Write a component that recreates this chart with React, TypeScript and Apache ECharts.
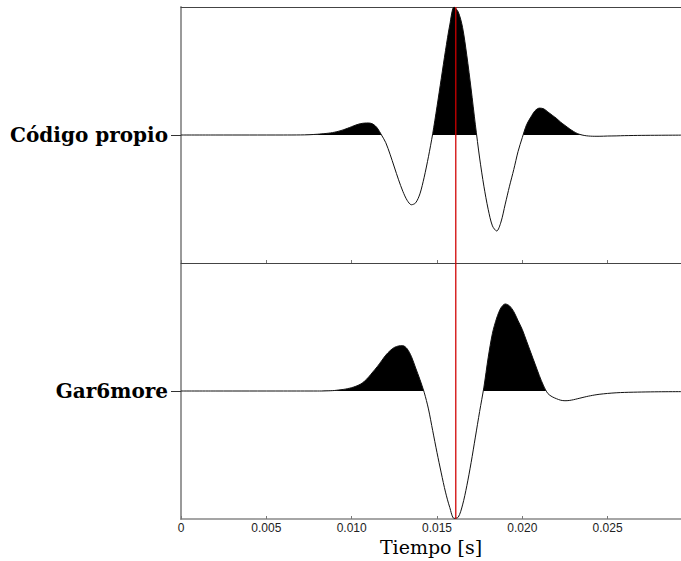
import React, { useEffect, useRef } from "react";
import * as echarts from "echarts";

// Time samples [s]
const times = [
  0, 0.002, 0.004, 0.006, 0.007, 0.0075, 0.008,
  0.00825, 0.0085, 0.00875, 0.009, 0.00925, 0.0095, 0.00975, 0.01,
  0.01025, 0.0105, 0.01075, 0.011, 0.01125, 0.0115, 0.01175, 0.012,
  0.01225, 0.0125, 0.01275, 0.013, 0.01325, 0.0135, 0.01375, 0.014,
  0.01425, 0.0145, 0.01475, 0.015, 0.01525, 0.0155, 0.01575, 0.016,
  0.01625, 0.0165, 0.01675, 0.017, 0.01725, 0.0175, 0.01775, 0.018,
  0.01825, 0.0185, 0.01875, 0.019, 0.01925, 0.0195, 0.01975, 0.02,
  0.02025, 0.0205, 0.02075, 0.021, 0.02125, 0.0215, 0.02175, 0.022,
  0.02225, 0.0225, 0.02275, 0.023, 0.02325, 0.0235, 0.02375, 0.024,
  0.02425, 0.0245,
  0.025, 0.0255, 0.026, 0.027, 0.028, 0.0293,
];

// Normalised trace "Código propio"
const codigoPropio = [
  0, 0, 0, 0, 0.0005, 0.002, 0.006,
  0.009, 0.012, 0.016, 0.022, 0.03, 0.04, 0.052, 0.065,
  0.078, 0.088, 0.093, 0.094, 0.085, 0.055, 0.0, -0.06,
  -0.15, -0.25, -0.35, -0.44, -0.51, -0.545, -0.53, -0.46,
  -0.33, -0.17, 0.01, 0.22, 0.44, 0.66, 0.86, 1.0,
  0.96, 0.84, 0.62, 0.36, 0.08, -0.18, -0.4, -0.58,
  -0.71, -0.75, -0.68, -0.54, -0.4, -0.27, -0.13, -0.02,
  0.08, 0.14, 0.19, 0.21, 0.205, 0.18, 0.155, 0.13,
  0.1, 0.075, 0.05, 0.028, 0.01, 0.0, -0.006, -0.009,
  -0.01, -0.01,
  -0.008, -0.007, -0.005, -0.003, -0.002, -0.001,
];

// Normalised trace "Gar6more"
const gar6more = [
  0, 0, 0, 0, 0, 0, 0,
  0, 0.001, 0.002, 0.004, 0.008, 0.012, 0.018, 0.026,
  0.037, 0.052, 0.076, 0.11, 0.15, 0.19, 0.235, 0.28,
  0.315, 0.34, 0.352, 0.354, 0.33, 0.27, 0.18, 0.09,
  -0.01, -0.14, -0.31, -0.48, -0.64, -0.79, -0.91, -0.995,
  -0.985, -0.89, -0.74, -0.56, -0.36, -0.16, 0.03, 0.26,
  0.45, 0.57, 0.65, 0.68, 0.665, 0.62, 0.55, 0.48,
  0.39, 0.3, 0.21, 0.12, 0.04, -0.02, -0.045, -0.06,
  -0.072, -0.076, -0.074, -0.068, -0.06, -0.052, -0.044, -0.037,
  -0.031, -0.026,
  -0.019, -0.014, -0.011, -0.008, -0.006, -0.005,
];

const traceNames = ["Código propio", "Gar6more"];
const redLineTime = 0.0161;
const xMin = 0;
const xMax = 0.0293;
const xInterval = 0.005;

export default function App() {
  const ref = useRef<HTMLDivElement>(null);

  useEffect(() => {
    document.body.style.margin = "0";
    const chart = echarts.init(ref.current!, null, { renderer: "svg" });

    const traces = [codigoPropio, gar6more];
    const xAxisIdx = [0, 2];

    const yAxisFor = (i: number) => ({
      gridIndex: i,
      type: "value",
      min: -1,
      max: 1,
      interval: 1,
      axisLine: { show: true, onZero: false, lineStyle: { color: "#9a9a9a", width: 2 } },
      axisTick: { show: true, length: 10, customValues: [0], lineStyle: { color: "#333", width: 1 } },
      axisLabel: {
        customValues: [0],
        margin: 13,
        formatter: (v: number) => (v === 0 ? traceNames[i] : ""),
        fontFamily: "DejaVu Serif",
        fontWeight: "bold",
        fontSize: 20,
        color: "#000",
      },
      splitLine: { show: false },
    });

    const traceSeries = traces.map((vals, i) => ({
      type: "line",
      name: traceNames[i],
      xAxisIndex: xAxisIdx[i],
      yAxisIndex: i,
      data: times.map((t, k) => [t, vals[k]]),
      showSymbol: false,
      smooth: 0.3,
      lineStyle: { color: "#111", width: 1 },
      areaStyle: { opacity: 1 },
      z: 2,
    }));

    const redSeries = traces.map((_, i) => ({
      type: "line",
      name: "ref" + i,
      xAxisIndex: xAxisIdx[i],
      yAxisIndex: i,
      data: [
        [redLineTime, -1],
        [redLineTime, 1],
      ],
      showSymbol: false,
      silent: true,
      lineStyle: { color: "#d00000", width: 1.5, opacity: 0.85 },
      z: 3,
    }));

    const option: any = {
      animation: false,
      grid: [
        { left: 181, right: 0, top: 7, height: 256, outerBoundsMode: "none", containLabel: false },
        { left: 181, right: 0, top: 263, height: 256, outerBoundsMode: "none", containLabel: false },
      ],
      xAxis: [
        {
          gridIndex: 0,
          type: "value",
          min: xMin,
          max: xMax,
          interval: xInterval,
          position: "bottom",
          axisLine: { show: true, onZero: false, lineStyle: { color: "#444", width: 1 } },
          axisTick: { show: true, inside: true, length: 3, lineStyle: { color: "#777" } },
          axisLabel: { show: false },
          splitLine: { show: false },
        },
        {
          gridIndex: 0,
          type: "value",
          min: xMin,
          max: xMax,
          interval: xInterval,
          position: "top",
          axisLine: { show: true, onZero: false, lineStyle: { color: "#444", width: 1 } },
          axisTick: { show: false },
          axisLabel: { show: false },
          splitLine: { show: false },
        },
        {
          gridIndex: 1,
          type: "value",
          min: xMin,
          max: xMax,
          interval: xInterval,
          position: "bottom",
          axisLine: { show: true, onZero: false, lineStyle: { color: "#888", width: 1.5 } },
          axisTick: { show: true, inside: true, length: 3, lineStyle: { color: "#777" } },
          axisLabel: {
            margin: 3,
            showMaxLabel: false,
            fontFamily: "Liberation Sans",
            fontSize: 12,
            lineHeight: 12,
            color: "#222",
            formatter: (v: number) => (v === 0 ? "0" : v.toFixed(3)),
          },
          splitLine: { show: false },
          name: "Tiempo [s]",
          nameLocation: "middle",
          nameGap: 20,
          nameTextStyle: {
            fontFamily: "DejaVu Serif",
            fontSize: 19,
            lineHeight: 15,
            color: "#000",
            verticalAlign: "top",
          },
        },
      ],
      yAxis: [yAxisFor(0), yAxisFor(1)],
      visualMap: traces.map((_, i) => ({
        type: "piecewise",
        show: false,
        seriesIndex: i,
        dimension: 1,
        pieces: [
          { gt: -1.5, lte: 0, color: "rgba(255,255,255,0)" },
          { gt: 0, lte: 1.5, color: "#000" },
        ],
        outOfRange: { color: "rgba(255,255,255,0)" },
      })),
      series: [...traceSeries, ...redSeries],
    };

    chart.setOption(option);
    return () => chart.dispose();
  }, []);

  return <div ref={ref} style={{ width: 681, height: 561 }} />;
}
